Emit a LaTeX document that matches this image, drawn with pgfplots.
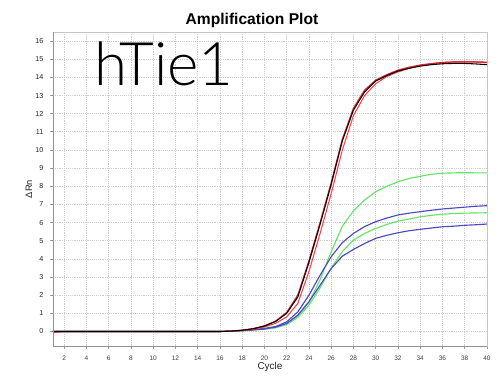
\documentclass[border=0pt]{standalone}
\usepackage{pgfplots}
\usepackage{pgfplotstable}
\pgfplotsset{compat=1.18}
\usepackage{fontspec}
\setmainfont{Liberation Sans}
\newfontfamily\thinfont{Lato Light}

\definecolor{cred}{RGB}{228,32,44}
\definecolor{cred2}{RGB}{236,70,80}
\definecolor{cgreen}{RGB}{102,228,102}
\definecolor{cblue}{RGB}{72,72,200}
\definecolor{gridc}{RGB}{205,205,205}

\pgfplotstableread{
c    blk    r1     r2     gh     bh     gl     bl
1    0      0     -0.06   0      0      0      0
2    0      0      0      0      0      0      0
3    0      0      0      0      0      0      0
4    0      0      0      0      0      0      0
5    0      0      0      0      0      0      0
6    0      0      0      0      0      0      0
7    0      0      0      0      0      0      0
8    0      0      0      0      0      0      0
9    0      0      0      0      0      0      0
10   0      0      0      0      0      0      0
11   0      0      0      0      0      0      0
12   0      0      0      0      0      0      0
13   0      0      0      0      0      0      0
14   0      0      0      0      0      0      0
15   0      0      0      0      0      0      0
16   0      0      0      0      0      0      0
17   0.02   0.02   0.02   0.02   0.02   0.01   0.02
18   0.07   0.07   0.06   0.05   0.05   0.03   0.05
19   0.15   0.16   0.12   0.10   0.10   0.07   0.09
20   0.30   0.31   0.25   0.17   0.16   0.12   0.14
21   0.55   0.57   0.45   0.27   0.27   0.20   0.24
22   1.00   1.05   0.80   0.45   0.53   0.38   0.44
23   1.90   2.00   1.55   0.82   1.08   0.78   0.90
24   3.80   3.90   3.30   1.60   2.00   1.45   1.64
25   5.90   6.00   5.40   2.85   3.10   2.40   2.55
26   8.10   8.20   7.60   4.40   4.12   3.50   3.47
27   10.50  10.60  10.00  5.80   4.90   4.40   4.15
28   12.20  12.30  11.90  6.65   5.40   5.04   4.52
29   13.20  13.30  13.00  7.25   5.78   5.40   4.85
30   13.80  13.85  13.65  7.70   6.05   5.68   5.13
31   14.10  14.15  14.05  8.00   6.25   5.90   5.30
32   14.35  14.40  14.30  8.25   6.42   6.08   5.44
33   14.50  14.56  14.50  8.43   6.52   6.20   5.55
34   14.62  14.68  14.65  8.55   6.60   6.32   5.63
35   14.70  14.76  14.75  8.66   6.68   6.40   5.70
36   14.75  14.82  14.82  8.72   6.75   6.46   5.77
37   14.77  14.85  14.86  8.74   6.80   6.50   5.80
38   14.77  14.85  14.87  8.75   6.85   6.52   5.85
39   14.74  14.84  14.86  8.74   6.90   6.53   5.88
40   14.70  14.82  14.84  8.74   6.93   6.54   5.92
}\datatable

\begin{document}
\begin{tikzpicture}
\path[use as bounding box] (0,0) rectangle (375pt,290.25pt);
\begin{axis}[
  at={(39.75pt,30.75pt)}, anchor=south west,
  scale only axis, width=325.5pt, height=235.5pt,
  xmin=1, xmax=40, ymin=-0.8, ymax=16.5,
  xtick={2,4,...,40}, ytick={0,1,...,16},
  grid=major,
  grid style={densely dotted, gridc, line width=0.5pt},
  axis line style={draw=gray!45, line width=0.6pt},
  tick style={draw=gray!80, line width=0.5pt},
  tick align=outside, major tick length=2.2pt,
  xtick pos=bottom, ytick pos=left,
  x tick label style={font=\fontsize{4.9}{5}\selectfont, text=black!75, yshift=-1.5pt},
  y tick label style={font=\fontsize{5.4}{6}\selectfont, text=black!85, xshift=-1.5pt},
  /pgf/number format/assume math mode=true,
  clip=true,
]
\addplot[cgreen, line width=0.85pt] table[x=c, y=gh] {\datatable};
\addplot[cgreen, line width=0.85pt] table[x=c, y=gl] {\datatable};
\addplot[cblue, line width=0.85pt] table[x=c, y=bh] {\datatable};
\addplot[cblue, line width=0.85pt] table[x=c, y=bl] {\datatable};
\addplot[cred2, line width=0.8pt] table[x=c, y=r2] {\datatable};
\addplot[cred, line width=0.9pt] table[x=c, y=r1] {\datatable};
\addplot[black, line width=0.8pt] table[x=c, y=blk] {\datatable};
\draw[gray!85, line width=0.7pt] (rel axis cs:0,1) -- (rel axis cs:0,0) -- (rel axis cs:1,0);
\end{axis}
\node[anchor=base, font=\fontsize{11.7}{13}\selectfont\bfseries] at (189pt,272.25pt) {Amplification Plot};
\node[anchor=base west, inner sep=0pt, font=\fontsize{45}{47}\thinfont] at (70.5pt,225.8pt) {hTie1};
\node[anchor=base, font=\fontsize{7.5}{8}\selectfont, text=black!85] at (202.5pt,13pt) {Cycle};
\node[rotate=90, font=\fontsize{7}{8}\selectfont, text=black!85] at (21.75pt,148.5pt) {ΔRn};
\end{tikzpicture}
\end{document}
